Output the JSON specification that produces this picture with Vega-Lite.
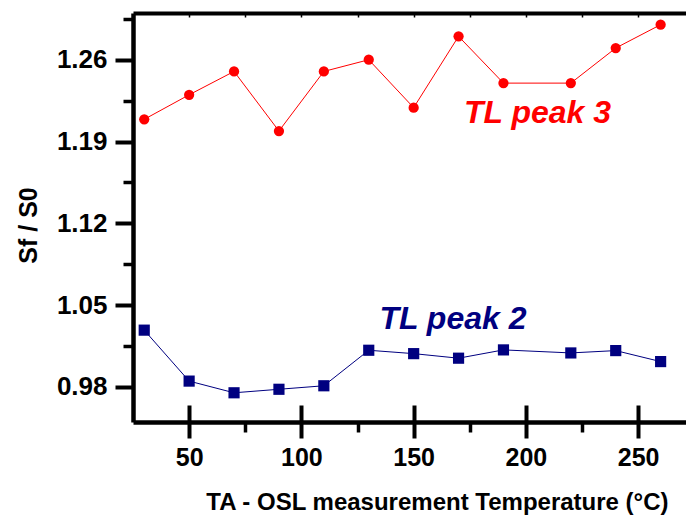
{
  "$schema": "https://vega.github.io/schema/vega-lite/v6.json",
  "width": 553,
  "height": 409,
  "autosize": {"type": "none"},
  "padding": {"left": 133, "top": 13, "right": 0, "bottom": 94},
  "background": "white",
  "config": {
    "view": {"stroke": null},
    "font": "Liberation Sans",
    "axis": {"grid": false, "domainColor": "black", "tickColor": "black", "labelColor": "black", "titleColor": "black"}
  },
  "datasets": {
    "pts": [
      {"temp": 30, "sfs0": 1.209, "series": "TL peak 3"},
      {"temp": 50, "sfs0": 1.230, "series": "TL peak 3"},
      {"temp": 70, "sfs0": 1.250, "series": "TL peak 3"},
      {"temp": 90, "sfs0": 1.199, "series": "TL peak 3"},
      {"temp": 110, "sfs0": 1.250, "series": "TL peak 3"},
      {"temp": 130, "sfs0": 1.260, "series": "TL peak 3"},
      {"temp": 150, "sfs0": 1.219, "series": "TL peak 3"},
      {"temp": 170, "sfs0": 1.280, "series": "TL peak 3"},
      {"temp": 190, "sfs0": 1.240, "series": "TL peak 3"},
      {"temp": 220, "sfs0": 1.240, "series": "TL peak 3"},
      {"temp": 240, "sfs0": 1.270, "series": "TL peak 3"},
      {"temp": 260, "sfs0": 1.290, "series": "TL peak 3"},
      {"temp": 30, "sfs0": 1.0286, "series": "TL peak 2"},
      {"temp": 50, "sfs0": 0.985, "series": "TL peak 2"},
      {"temp": 70, "sfs0": 0.975, "series": "TL peak 2"},
      {"temp": 90, "sfs0": 0.978, "series": "TL peak 2"},
      {"temp": 110, "sfs0": 0.981, "series": "TL peak 2"},
      {"temp": 130, "sfs0": 1.0114, "series": "TL peak 2"},
      {"temp": 150, "sfs0": 1.0085, "series": "TL peak 2"},
      {"temp": 170, "sfs0": 1.0046, "series": "TL peak 2"},
      {"temp": 190, "sfs0": 1.0117, "series": "TL peak 2"},
      {"temp": 220, "sfs0": 1.0091, "series": "TL peak 2"},
      {"temp": 240, "sfs0": 1.0111, "series": "TL peak 2"},
      {"temp": 260, "sfs0": 1.0017, "series": "TL peak 2"}
    ],
    "labels": [
      {"temp": 205.2, "sfs0": 1.214, "label": "TL peak 3", "series": "TL peak 3"},
      {"temp": 167.5, "sfs0": 1.0383, "label": "TL peak 2", "series": "TL peak 2"}
    ]
  },
  "resolve": {"axis": {"x": "independent", "y": "independent"}},
  "layer": [
    {
      "data": {"name": "pts"},
      "transform": [{"filter": "datum.series === 'TL peak 3'"}],
      "mark": {"type": "line", "color": "#FF0000", "strokeWidth": 1},
      "encoding": {
        "x": {"field": "temp", "type": "quantitative", "scale": {"domain": [25, 271.3], "nice": false, "zero": false},
          "axis": {"orient": "bottom", "values": [50, 100, 150, 200, 250], "tickSize": 16, "tickWidth": 4, "domainWidth": 4.5,
            "labelFont": "Liberation Sans", "labelFontSize": 25, "labelFontWeight": "bold", "labelPadding": 7,
            "title": "TA - OSL measurement Temperature (°C)", "titleFont": "Liberation Sans", "titleFontSize": 24, "titleFontWeight": "bold",
            "titleX": 535, "titleY": 80, "titleAlign": "right", "titleBaseline": "middle"}},
        "y": {"field": "sfs0", "type": "quantitative", "scale": {"domain": [0.95, 1.30], "nice": false, "zero": false},
          "axis": {"orient": "left", "values": [0.98, 1.05, 1.12, 1.19, 1.26], "format": ".2f", "tickSize": 18, "tickWidth": 4, "domainWidth": 4.5,
            "labelFont": "Liberation Sans", "labelFontSize": 26, "labelFontWeight": "bold", "labelPadding": 8,
            "title": "Sf / S0", "titleFont": "Liberation Sans", "titleFontSize": 25, "titleFontWeight": "bold",
            "titleAngle": -90, "titleX": -105, "titleY": 212, "titleAlign": "center", "titleBaseline": "middle"}}
      }
    },
    {
      "data": {"name": "pts"},
      "transform": [{"filter": "datum.series === 'TL peak 3'"}],
      "mark": {"type": "point", "shape": "circle", "filled": true, "color": "#FF0000", "size": 105, "opacity": 1},
      "encoding": {
        "x": {"field": "temp", "type": "quantitative", "scale": {"domain": [25, 271.3], "nice": false, "zero": false},
          "axis": {"orient": "bottom", "offset": -17, "values": [50, 100, 150, 200, 250], "tickSize": 17, "tickWidth": 4, "domain": false, "labels": false, "title": null}},
        "y": {"field": "sfs0", "type": "quantitative", "scale": {"domain": [0.95, 1.30], "nice": false, "zero": false},
          "axis": {"orient": "left", "values": [1.015, 1.085, 1.155, 1.225, 1.295], "tickSize": 10, "tickWidth": 3.5, "domain": false, "labels": false, "title": null}}
      }
    },
    {
      "data": {"name": "pts"},
      "transform": [{"filter": "datum.series === 'TL peak 2'"}],
      "mark": {"type": "line", "color": "#000080", "strokeWidth": 1},
      "encoding": {
        "x": {"field": "temp", "type": "quantitative", "scale": {"domain": [25, 271.3], "nice": false, "zero": false},
          "axis": {"orient": "bottom", "values": [75, 125, 175, 225], "tickSize": 10, "tickWidth": 3.5, "domain": false, "labels": false, "title": null}},
        "y": {"field": "sfs0", "type": "quantitative", "scale": {"domain": [0.95, 1.30], "nice": false, "zero": false}, "axis": null}
      }
    },
    {
      "data": {"name": "pts"},
      "transform": [{"filter": "datum.series === 'TL peak 2'"}],
      "mark": {"type": "point", "shape": "square", "filled": true, "color": "#000080", "size": 125, "opacity": 1},
      "encoding": {
        "x": {"field": "temp", "type": "quantitative", "scale": {"domain": [25, 271.3], "nice": false, "zero": false},
          "axis": {"orient": "top", "ticks": false, "domainWidth": 4, "labels": false, "title": null}},
        "y": {"field": "sfs0", "type": "quantitative", "scale": {"domain": [0.95, 1.30], "nice": false, "zero": false}, "axis": null}
      }
    },
    {
      "data": {"name": "labels"},
      "mark": {"type": "text", "font": "Liberation Sans", "fontSize": 32, "fontWeight": "bold", "fontStyle": "italic", "align": "center", "baseline": "middle"},
      "encoding": {
        "x": {"field": "temp", "type": "quantitative", "scale": {"domain": [25, 271.3], "nice": false, "zero": false},
          "axis": {"orient": "top", "offset": -4, "values": [50, 75, 100, 125, 150, 175, 200, 225, 250], "tickSize": 3, "tickWidth": 1.5, "domain": false, "labels": false, "title": null}},
        "y": {"field": "sfs0", "type": "quantitative", "scale": {"domain": [0.95, 1.30], "nice": false, "zero": false}, "axis": null},
        "text": {"field": "label", "type": "nominal"},
        "color": {"field": "series", "type": "nominal", "scale": {"domain": ["TL peak 3", "TL peak 2"], "range": ["#FF0000", "#000080"]}, "legend": null}
      }
    }
  ]
}
